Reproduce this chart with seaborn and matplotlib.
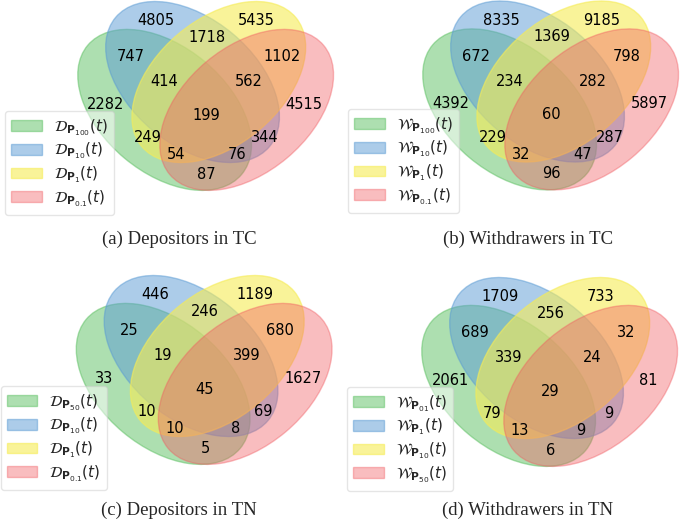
import matplotlib

matplotlib.use("Agg")

import matplotlib.pyplot as plt
import seaborn as sns
from matplotlib.patches import Ellipse

# region keys: green, blue, yellow, red membership
REGIONS = ["1000", "0100", "0010", "0001", "1100", "1010", "1001", "0110",
           "0101", "0011", "1110", "1101", "1011", "0111", "1111"]

dep_tc = [2282, 4805, 5435, 4515, 747, 249, 87, 1718, 344, 1102, 414, 76, 54, 562, 199]
wdr_tc = [4392, 8335, 9185, 5897, 672, 229, 96, 1369, 287, 798, 234, 47, 32, 282, 60]
dep_tn = [33, 446, 1189, 1627, 25, 10, 5, 246, 69, 680, 19, 8, 10, 399, 45]
wdr_tn = [2061, 1709, 733, 81, 689, 79, 6, 256, 9, 32, 339, 9, 13, 24, 29]

subs_dep_tc = ["100", "10", "1", "0.1"]
subs_wdr_tc = ["100", "10", "1", "0.1"]
subs_dep_tn = ["50", "10", "1", "0.1"]
subs_wdr_tn = ["01", "1", "10", "50"]

captions = ["(a) Depositors in TC", "(b) Withdrawers in TC",
            "(c) Depositors in TN", "(d) Withdrawers in TN"]

# pyvenn style colours (rgb, alpha)
RGB = [(92, 192, 98), (90, 155, 212), (246, 236, 86), (241, 90, 96)]
ALPHA = [0.5, 0.5, 0.6, 0.4]

ELLIPSES = [(0.350, 0.400, 140.0), (0.450, 0.500, 140.0),
            (0.544, 0.500, 40.0), (0.644, 0.400, 40.0)]
TEXT_POS = {
    "0001": (0.85, 0.42), "0010": (0.68, 0.72), "0011": (0.77, 0.59),
    "0100": (0.32, 0.72), "0101": (0.71, 0.30), "0110": (0.50, 0.66),
    "0111": (0.65, 0.50), "1000": (0.14, 0.42), "1001": (0.50, 0.17),
    "1010": (0.29, 0.30), "1011": (0.39, 0.24), "1100": (0.23, 0.59),
    "1101": (0.61, 0.24), "1110": (0.35, 0.50), "1111": (0.50, 0.38),
}

W, H = 681, 529
sns.set_style("white")
palette = sns.color_palette([tuple(c / 255 for c in rgb) for rgb in RGB])


def draw_venn(fig, rect, x0, y1, scale, values, letter, subs, leg_xy):
    left, top, right, bottom = rect
    ax = fig.add_axes([left / W, 1 - bottom / H, (right - left) / W, (bottom - top) / H])
    ax.set_xlim((left - x0) / scale, (right - x0) / scale)
    ax.set_ylim(1 - (bottom - y1) / scale, 1 - (top - y1) / scale)
    ax.set_axis_off()

    handles = []
    for (cx, cy, ang), col, a in zip(ELLIPSES, palette, ALPHA):
        e = Ellipse((cx, cy), 0.72, 0.45, angle=ang, color=(*col, a))
        ax.add_patch(e)
        handles.append(e)

    for key, val in zip(REGIONS, values):
        x, y = TEXT_POS[key]
        ax.text(x, y, str(val), ha="center", va="center", fontsize=10.5,
                family="DejaVu Sans", color="black")

    labels = [rf"$\mathcal{{{letter}}}_{{\mathbf{{P}}_{{{s}}}}}(t)$" for s in subs]
    ax.legend(handles, labels, loc="upper left",
              bbox_to_anchor=(leg_xy[0] / W, 1 - leg_xy[1] / H),
              bbox_transform=fig.transFigure, borderaxespad=0,
              fontsize=11, labelspacing=0.2, fancybox=True, framealpha=0.5)
    return ax


fig = plt.figure(figsize=(W / 100, H / 100), dpi=100)

draw_venn(fig, (0, 0, 340.5, 264.5), 67, -57.5, 279, dep_tc, "D", subs_dep_tc, (5, 111))
draw_venn(fig, (340.5, 0, 681, 264.5), 412, -58, 279, wdr_tc, "W", subs_wdr_tc, (348, 109))
draw_venn(fig, (0, 264.5, 340.5, 529), 65.5, 216.5, 279, dep_tn, "D", subs_dep_tn, (0.5, 386))
draw_venn(fig, (340.5, 264.5, 681, 529), 411, 218.5, 279, wdr_tn, "W", subs_wdr_tn, (347, 387))

cap_pos = [(179, 239), (528, 239), (179, 510), (528, 510)]
for text, (cx, cy) in zip(captions, cap_pos):
    fig.text(cx / W, 1 - cy / H, text, ha="center", va="center",
             fontsize=13.5, family="Liberation Serif")

fig.savefig("out.png", dpi=100)
